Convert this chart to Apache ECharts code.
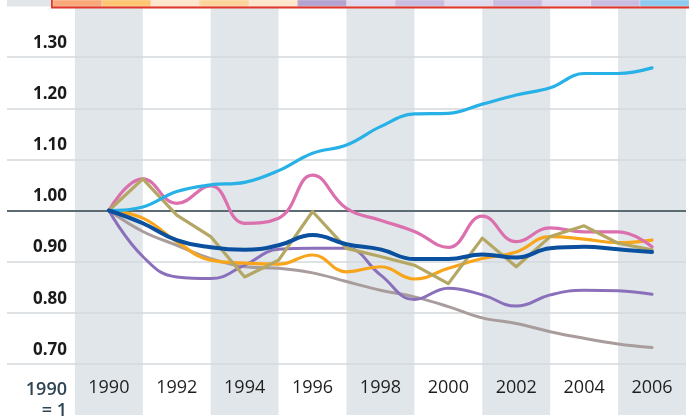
<!DOCTYPE html>
<html>
<head>
<meta charset="utf-8">
<script src="https://cdn.jsdelivr.net/npm/echarts@6/dist/echarts.min.js"></script>
<style>
  html, body { margin: 0; padding: 0; background: #fff; }
  #chart { width: 689px; height: 416px; }
</style>
</head>
<body>
<div id="chart"></div>
<script>
// years 1990..2006, index = 1990 = 1
const years = [1990, 1991, 1992, 1993, 1994, 1995, 1996, 1997, 1998, 1999, 2000, 2001, 2002, 2003, 2004, 2005, 2006];

const lightBlue = [1.0, 1.007, 1.037, 1.05, 1.055, 1.078, 1.112, 1.128, 1.164, 1.189, 1.19, 1.208, 1.226, 1.24, 1.268, 1.268, 1.279];
const pink      = [1.0, 1.062, 1.014, 1.048, 0.975, 0.985, 1.069, 1.004, 0.981, 0.959, 0.928, 0.989, 0.939, 0.966, 0.958, 0.958, 0.929];
const khaki     = [1.0, 1.062, 0.991, 0.949, 0.870, 0.903, 0.998, 0.926, 0.910, 0.893, 0.857, 0.946, 0.890, 0.949, 0.970, 0.936, 0.923];
const darkBlue  = [1.0, 0.975, 0.942, 0.928, 0.923, 0.932, 0.952, 0.934, 0.924, 0.905, 0.905, 0.914, 0.908, 0.926, 0.929, 0.924, 0.919];
const orange    = [1.0, 0.985, 0.939, 0.903, 0.897, 0.895, 0.913, 0.880, 0.890, 0.866, 0.887, 0.906, 0.919, 0.949, 0.944, 0.937, 0.942];
const purple    = [1.0, 0.910, 0.870, 0.867, 0.893, 0.924, 0.926, 0.926, 0.874, 0.826, 0.848, 0.835, 0.813, 0.835, 0.844, 0.843, 0.836];
const grey      = [1.0, 0.959, 0.932, 0.906, 0.890, 0.887, 0.878, 0.861, 0.844, 0.831, 0.812, 0.790, 0.779, 0.763, 0.750, 0.739, 0.732];

// shaded two-year bands (start year)
const bandStarts = [1989, 1993, 1997, 2001, 2005];
const gridValues = [0.7, 0.8, 0.9, 1.1, 1.2, 1.3];
const yTickLabels = ['0.70', '0.80', '0.90', '1.00', '1.10', '1.20', '1.30'];
const xTickLabels = [1990, 1992, 1994, 1996, 1998, 2000, 2002, 2004, 2006];

// colours of the cut-off key strip along the top
const stripColors = ['#f9a87a', '#fec573', '#fee6cc', '#fdd59b', '#fee6cc', '#b3a3d0', '#dfdaed',
  '#c8bde0', '#dfdaed', '#c8bde0', '#dfdaed', '#c8bde0', '#8ecbee'];

const pairs = arr => years.map((y, i) => [y, arr[i]]);

function line(name, arr, color, width, smooth, z) {
  return {
    name, type: 'line', data: pairs(arr), smooth: smooth, showSymbol: false, symbol: 'none',
    z: z, lineStyle: { color: color, width: width, cap: 'round', join: 'round' }, silent: true
  };
}

const chart = echarts.init(document.getElementById('chart'), null, { renderer: 'canvas' });

const stripGraphics = [
  { type: 'rect', shape: { x: 7, y: 0, width: 44, height: 6.5 }, style: { fill: '#e1e6ea' }, z: 100 },
  { type: 'rect', shape: { x: 51, y: 0, width: 638, height: 8.5 }, style: { fill: '#e0392c' }, z: 100 }
];
stripColors.forEach((c, i) => {
  stripGraphics.push({
    type: 'rect', shape: { x: 53 + i * 48.92, y: 0, width: 48.92, height: 6.2 },
    style: { fill: c, stroke: 'rgba(255,255,255,0.5)', lineWidth: 0.6 }, z: 101
  });
});

chart.setOption({
  animation: false,
  grid: { left: 7, right: 0, top: 6, bottom: 1 },
  xAxis: {
    type: 'value', min: 1987, max: 2007, interval: 1,
    axisLine: { show: false }, axisTick: { show: false }, splitLine: { show: false },
    axisLabel: {
      inside: true, margin: 27, verticalAlign: 'middle',
      fontFamily: 'Open Sans', fontSize: 18, color: '#1e1e1e',
      formatter: v => xTickLabels.indexOf(v) >= 0 ? String(v) : ''
    }
  },
  yAxis: {
    type: 'value', min: 0.6, max: 1.4, interval: 0.1,
    axisLine: { show: false }, axisTick: { show: false }, splitLine: { show: false },
    axisLabel: {
      inside: true, margin: 60, align: 'right', verticalAlign: 'middle', lineHeight: 28,
      fontFamily: 'Open Sans', fontWeight: 'bold', fontSize: 17, color: '#1a1a1a',
      // blank second line lifts the label above its gridline
      formatter: v => {
        const s = v.toFixed(2);
        return yTickLabels.indexOf(s) >= 0 ? s + '\n ' : '';
      }
    }
  },
  graphic: stripGraphics.concat([
    {
      type: 'text', z: 50,
      style: {
        text: '1990\n= 1', x: 67, y: 379, align: 'right', verticalAlign: 'top',
        fontFamily: 'Open Sans', fontSize: 18, fontWeight: 600, lineHeight: 21, fill: '#2e4452'
      }
    }
  ]),
  series: [
    {
      type: 'line', data: [], z: 0, silent: true,
      markArea: {
        silent: true, z: 0,
        itemStyle: { color: '#e1e6ea' },
        data: bandStarts.map(s => [{ xAxis: s }, { xAxis: s + 2 }])
      }
    },
    {
      type: 'line', data: [], z: 1, silent: true,
      markLine: {
        silent: true, z: 1, symbol: 'none', label: { show: false },
        lineStyle: { color: '#d3d9dd', width: 1.5, type: 'solid' },
        data: gridValues.map(v => ({ yAxis: v })).concat([
          { yAxis: 1.0, lineStyle: { color: '#5c6b71', width: 2, type: 'solid' } }
        ])
      }
    },
    line('grey', grey, '#a89d9c', 3, 0.4, 3),
    line('purple', purple, '#8a70bb', 3, 0.45, 4),
    line('orange', orange, '#f9a51b', 3.2, 0.45, 5),
    line('pink', pink, '#dc6fae', 3.2, 0.45, 6),
    line('khaki', khaki, '#b4a663', 3.2, false, 7),
    line('lightBlue', lightBlue, '#27b1e6', 3.2, 0.4, 8),
    line('darkBlue', darkBlue, '#0a509e', 4, 0.45, 9)
  ]
});
</script>
</body>
</html>
